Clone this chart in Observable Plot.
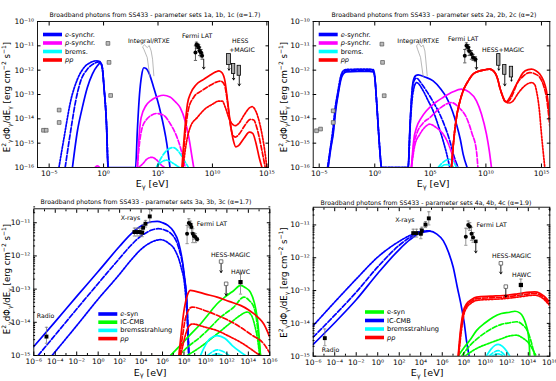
<!DOCTYPE html>
<html><head><meta charset="utf-8">
<script src="https://cdn.jsdelivr.net/npm/d3@7"></script>
<script src="https://cdn.jsdelivr.net/npm/@observablehq/plot@0.6"></script>
<style>
body{margin:0;background:#fff;}
#root{position:relative;width:556px;height:381px;overflow:hidden;font-family:"DejaVu Sans";}
#root svg{position:absolute;}
</style></head><body><div id="root"></div>
<script>
// ---------- data (log10 E [eV], log10 flux [erg cm^-2 s^-1]) ----------
// Panel 1
const p1_esyn_solid = [[-2.86,-16],[-2.4,-14.49],[-1.95,-13.53],[-1.49,-12.71],[-1.03,-12.16],[-0.57,-11.82],[-0.3,-11.7],[-0.12,-11.9],[0.04,-12.71],[0.28,-14.36],[0.4,-16],[2.94,-16],[3.1,-14.5],[3.3,-13.0],[3.5,-12.2],[3.7,-11.9],[3.9,-11.93],[4.2,-12.15],[4.6,-12.71],[5.2,-13.67],[5.8,-15.0],[6.1,-16]];
const p1_esyn_dash = [[-3.53,-16],[-3.02,-14.49],[-2.56,-13.26],[-2.1,-12.44],[-1.49,-11.96],[-0.88,-11.73],[-0.42,-11.66],[-0.25,-11.7],[-0.12,-11.9],[0.04,-12.71],[0.28,-14.36],[0.4,-16]];
const p1_esyn_dot = [[-4.1,-16],[-3.63,-14.77],[-3.02,-13.26],[-2.4,-12.37],[-1.79,-11.89],[-1.18,-11.68],[-0.73,-11.62],[-0.4,-11.63],[-0.12,-11.9],[0.04,-12.71],[0.28,-14.36],[0.4,-16]];
const p1_psyn_solid = [[3.1,-16],[3.25,-14.8],[3.45,-13.95],[3.9,-13.45],[4.3,-13.26],[5.0,-13.08],[5.5,-13.03],[6.1,-13.1],[6.6,-13.3],[7.05,-13.55],[7.5,-14.1],[7.85,-14.8],[8.1,-15.5],[8.28,-16]];
const p1_psyn_dash = [[3.1,-16],[3.3,-15.0],[3.55,-14.36],[4.0,-14.0],[4.4,-13.85],[4.9,-13.78],[5.5,-13.85],[6.15,-14.22],[6.6,-14.6],[7.06,-15.18],[7.5,-16]];
const p1_psyn_dot = [[3.2,-16],[3.6,-15.85],[4.0,-15.65],[4.45,-15.58],[4.9,-15.7],[5.3,-15.9],[5.6,-16]];
const p1_psyn_low = [[-0.8,-16],[-0.57,-15.93],[-0.35,-16]];
const p1_brem_dash = [[4.85,-16],[5.3,-15.6],[5.8,-15.3],[6.4,-15.18],[6.9,-15.35],[7.4,-15.7],[7.8,-16]];
const p1_brem_dot = [[4.85,-16],[5.3,-15.78],[5.8,-15.7],[6.3,-15.8],[6.8,-15.95],[7.0,-16]];
const p1_pp_solid = [[7.2,-16],[7.45,-14.5],[7.7,-13.4],[8.0,-12.95],[8.5,-12.6],[9.2,-12.38],[9.8,-12.2],[10.3,-12.07],[10.6,-12.03],[10.9,-12.12],[11.15,-12.45],[11.4,-13.3],[11.65,-14.2],[11.9,-14.85],[12.15,-15.15],[12.4,-15.1],[12.9,-14.8],[13.4,-14.55],[13.7,-14.6],[14.0,-15.0],[14.3,-15.6],[14.55,-16]];
const p1_pp_dash = [[7.25,-16],[7.5,-14.6],[7.8,-13.6],[8.3,-13.1],[9.0,-12.85],[9.7,-12.65],[10.3,-12.5],[10.75,-12.45],[11.1,-12.6],[11.35,-13.2],[11.6,-14.1],[11.85,-14.65],[12.1,-14.75],[12.5,-14.6],[13.0,-14.25],[13.5,-14.02],[13.8,-14.05],[14.1,-14.4],[14.5,-15.2],[14.85,-16]];
const p1_pp_dot = [[7.3,-16],[7.6,-15.0],[8.0,-14.3],[8.6,-13.95],[9.3,-13.6],[10.0,-13.4],[10.6,-13.27],[10.9,-13.27],[11.2,-13.55],[11.5,-13.95],[11.8,-14.2],[12.1,-14.28],[12.4,-14.2],[12.9,-13.85],[13.4,-13.55],[13.65,-13.5],[14.0,-13.7],[14.4,-14.3],[14.8,-15.3],[15.0,-16]];
const p1_gray = [[-5.52,-14.47],[-5.27,-14.47],[-4.08,-13.64],[-4.08,-14.15],[0.4,-10.9],[0.5,-11.68],[0.65,-13.04]];
const p1_integral = [[4.25,-12.27],[4.01,-11.48],[3.7,-11.14],[3.58,-11.04],[3.76,-10.96],[4.01,-11.07],[4.19,-10.99],[4.37,-11.21],[4.5,-11.55],[4.62,-12.23]];
const p1_fermi = [[8.44,-11.27,-11.0,-11.6],[8.53,-10.96,-10.85,-11.1],[8.65,-11.0,-10.9,-11.12],[8.74,-11.07,-10.95,-11.2],[8.83,-11.21,-11.05,-11.4],[8.95,-11.27,-11.15,-11.45],[9.05,-11.41,-11.3,-11.55]];
const p1_fermi_ul = [[9.2,-11.55,-11.95]];
const p1_hess_ul = [[11.34,11.70,-11.34,-11.79,-12.0],[11.79,12.1,-11.75,-12.16,-12.4],[12.31,12.62,-11.82,-12.23,-12.64]];
const p1_notes = [["Integral/RTXE",4.16,-10.79],["Fermi LAT",8.59,-10.59],["HESS",12.56,-10.82],["+MAGIC",12.71,-11.16]];

// Panel 2
const p2_esyn_solid = [[-4.19,-16],[-3.95,-15.2],[-3.74,-14.63],[-3.5,-13.6],[-3.29,-12.99],[-3.05,-12.4],[-2.84,-12.16],[-2.54,-12.07],[-1.5,-12.05],[-0.5,-12.05],[-0.14,-12.07],[0.0,-12.3],[0.16,-13.26],[0.35,-14.6],[0.46,-15.32],[0.61,-16],[3.0,-16],[3.15,-14.5],[3.3,-13.2],[3.46,-12.44],[3.7,-12.22],[3.9,-12.19],[4.5,-12.28],[5.25,-12.44],[5.9,-12.75],[6.45,-13.12],[7.0,-13.7],[7.35,-14.22],[7.7,-14.85],[7.95,-15.45],[8.31,-16]];
const p2_esyn_dash = [[-4.22,-16],[-3.98,-15.2],[-3.77,-14.6],[-3.52,-13.55],[-3.3,-12.93],[-3.06,-12.33],[-2.84,-12.1],[-2.54,-12.02],[-1.5,-12.0],[-0.5,-12.0],[-0.14,-12.02],[0.0,-12.27],[0.16,-13.26],[0.35,-14.6],[0.46,-15.32],[0.61,-16],[3.0,-16],[3.2,-14.0],[3.4,-12.7],[3.6,-12.38],[3.76,-12.33],[4.2,-12.55],[4.65,-12.85],[5.25,-13.3],[5.85,-13.81],[6.3,-14.3],[6.75,-14.9],[7.1,-15.5],[7.5,-16]];
const p2_esyn_dot = [[-4.25,-16],[-4.0,-15.2],[-3.8,-14.55],[-3.55,-13.5],[-3.32,-12.88],[-3.08,-12.28],[-2.86,-12.04],[-2.54,-11.97],[-1.5,-11.96],[-0.5,-11.96],[-0.14,-11.98],[0.0,-12.25],[0.16,-13.26],[0.35,-14.6],[0.46,-15.32],[0.61,-16],[3.0,-16],[3.2,-14.2],[3.45,-12.9],[3.76,-12.51],[4.36,-12.85],[4.8,-13.25],[5.25,-13.67],[5.7,-14.25],[6.15,-14.9],[6.45,-15.4],[6.75,-16]];
const p2_psyn_solid = [[3.3,-16],[3.5,-14.9],[3.76,-14.36],[4.2,-13.95],[4.65,-13.67],[5.4,-13.35],[6.15,-13.12],[7.0,-12.9],[7.8,-12.78],[8.5,-12.9],[9.15,-13.26],[9.6,-13.8],[10.05,-14.63],[10.3,-15.3],[10.5,-16]];
const p2_psyn_dash = [[3.3,-16],[3.5,-15.1],[3.76,-14.63],[4.3,-14.2],[4.95,-13.95],[5.9,-13.55],[6.9,-13.33],[7.6,-13.55],[8.25,-13.95],[8.75,-14.6],[9.15,-15.32],[9.28,-16]];
const p2_psyn_dot = [[3.3,-16],[3.6,-15.1],[4.06,-14.63],[4.5,-14.35],[4.95,-14.22],[5.5,-14.35],[6.15,-14.63],[6.6,-15.0],[7.05,-15.59],[7.35,-16]];
const p2_brem_dash = [[5.7,-16],[6.1,-15.8],[6.5,-15.68],[6.75,-15.66],[7.0,-15.72],[7.2,-15.85],[7.35,-16]];
const p2_brem_dot = [[5.9,-16],[6.4,-15.88],[6.8,-15.9],[7.1,-16]];
const p2_pp_solid = [[6.9,-16],[7.1,-14.9],[7.35,-13.95],[7.65,-13.3],[7.95,-12.85],[8.4,-12.45],[8.85,-12.16],[9.3,-12.05],[9.75,-12.0],[10.35,-11.96],[10.8,-12.1],[11.05,-12.35],[11.25,-12.71],[11.5,-13.05],[11.7,-13.26],[11.85,-13.29],[12.05,-13.2],[12.45,-12.85],[12.9,-12.45],[13.35,-12.1],[13.8,-11.98],[14.1,-11.96],[14.5,-12.02],[14.85,-12.16],[15.2,-12.45],[15.45,-12.85],[15.75,-13.95]];
const p2_pp_dash = [[6.9,-16],[7.1,-14.9],[7.35,-13.95],[7.65,-13.3],[7.95,-12.85],[8.4,-12.45],[8.85,-12.16],[9.3,-12.05],[9.75,-12.0],[10.35,-11.96],[10.8,-12.1],[11.05,-12.35],[11.25,-12.71],[11.5,-13.05],[11.7,-13.26],[11.85,-13.3],[12.1,-13.25],[12.45,-12.95],[12.75,-12.6],[13.35,-12.25],[13.95,-12.1],[14.4,-12.15],[14.85,-12.3],[15.2,-12.65],[15.45,-13.12],[15.75,-14.3]];
const p2_pp_dot = [[6.9,-16],[7.1,-14.9],[7.35,-13.95],[7.65,-13.3],[7.95,-12.85],[8.4,-12.45],[8.85,-12.16],[9.3,-12.05],[9.75,-12.0],[10.35,-11.96],[10.8,-12.1],[11.05,-12.35],[11.25,-12.71],[11.5,-13.08],[11.7,-13.28],[11.85,-13.32],[12.1,-13.35],[12.45,-13.26],[12.9,-12.95],[13.35,-12.71],[13.8,-12.55],[14.1,-12.51],[14.4,-12.6],[14.55,-12.85],[14.8,-13.6],[15.0,-14.63],[15.3,-16]];
const p2_gray = [[-5.24,-14.49],[-4.88,-14.42],[-3.74,-13.67],[-3.74,-14.15],[0.64,-10.93],[0.7,-11.68],[0.85,-13.05]];
const p2_integral = [[4.36,-12.27],[4.12,-11.48],[3.85,-11.14],[3.76,-11.0],[3.97,-10.9],[4.18,-11.04],[4.36,-10.97],[4.51,-11.21],[4.6,-11.62],[4.72,-12.23]];
const p2_fermi = [[8.1,-11.41,-11.15,-11.7],[8.25,-11.0,-10.88,-11.12],[8.4,-11.07,-10.95,-11.2],[8.49,-11.21,-11.05,-11.4],[8.7,-11.34,-11.2,-11.55],[8.85,-11.48,-11.35,-11.6],[9.06,-11.55,-11.45,-11.65]];
const p2_fermi_ul = [[9.15,-11.6,-11.96]];
const p2_hess_ul = [[11.01,11.31,-11.34,-11.82,-12.0],[11.55,11.85,-11.79,-12.19,-12.64],[12.15,12.45,-11.86,-12.3,-12.45]];
const p2_notes = [["Integral/RTXE",3.91,-10.79],["Fermi LAT",7.95,-10.73],["HESS+MAGIC",11.55,-11.16]];

// Panel 3
const p3_esyn_solid = [[-6,-14.73],[-4,-13.98],[-2,-13.22],[0,-12.47],[2,-11.71],[3,-11.36],[4,-11.1],[5,-10.97],[5.5,-10.96],[6,-11.0],[6.5,-11.08],[7,-11.25],[7.5,-11.6],[8,-12.5],[8.3,-13.6],[8.45,-15]];
const p3_esyn_dash = [[-5.6,-15],[-4,-14.38],[-2,-13.6],[0,-12.83],[2,-12.07],[3,-11.7],[4,-11.4],[5,-11.22],[5.6,-11.18],[6.2,-11.22],[7,-11.4],[7.5,-11.75],[8,-12.55],[8.3,-13.6],[8.45,-15]];
const p3_esyn_dot = [[-4.3,-15],[-2,-14.1],[0,-13.3],[2,-12.55],[3,-12.15],[4,-11.8],[5,-11.58],[5.8,-11.51],[6.5,-11.6],[7.2,-11.85],[7.7,-12.3],[8.1,-13.0],[8.35,-14.2],[8.45,-15]];
const p3_ic_solid = [[6.74,-15],[7.5,-14.75],[8.5,-14.4],[9.54,-14.05],[10.3,-13.75],[11.09,-13.44],[11.9,-13.22],[12.65,-13.04],[13.27,-12.89],[13.7,-12.95],[14.2,-13.1],[14.55,-13.4],[14.82,-13.84],[15.0,-14.4],[15.13,-15]];
const p3_ic_dash = [[7.52,-15],[8.5,-14.7],[9.5,-14.45],[10.16,-14.25],[11.4,-13.85],[12.65,-13.54],[13.58,-13.24],[14.1,-13.35],[14.51,-13.54],[14.8,-14.0],[14.98,-14.55],[15.13,-15]];
const p3_ic_dot = [[8.3,-15],[9.5,-14.75],[11.09,-14.35],[12.4,-14.0],[13.2,-13.8],[13.89,-13.69],[14.3,-13.8],[14.6,-14.1],[14.9,-14.6],[15.05,-15]];
const p3_brem_solid = [[9.54,-15],[9.9,-14.75],[10.4,-14.5],[11.09,-14.4],[11.8,-14.48],[12.5,-14.7],[13.2,-14.88],[13.73,-15]];
const p3_brem_dash = [[10.2,-15],[10.7,-14.88],[11.09,-14.83],[11.6,-14.87],[12.2,-15]];
const p3_brem_dot = [[10.6,-15],[11.1,-14.95],[11.6,-15]];
const p3_pp_solid = [[7.52,-15],[7.75,-14.3],[8.0,-13.65],[8.3,-13.2],[8.6,-13.04],[9.0,-13.06],[10.0,-13.15],[11.09,-13.24],[12.2,-13.37],[13.27,-13.49],[14.0,-13.62],[14.51,-13.74],[15.0,-13.88],[15.44,-14.05],[16,-14.45]];
const p3_pp_dash = [[7.6,-15],[7.85,-14.45],[8.2,-13.8],[8.76,-13.54],[10.0,-13.65],[11.09,-13.79],[12.2,-13.95],[13.27,-14.15],[14.3,-14.38],[15.44,-14.65],[16,-14.93]];
const p3_pp_dot = [[7.7,-15],[8.0,-14.55],[8.4,-14.15],[8.76,-14.05],[10.0,-14.15],[11.09,-14.25],[12.2,-14.42],[13.27,-14.6],[14.3,-14.82],[14.82,-14.94],[15.1,-15]];
const p3_radio = [[-4.82,-14.43,-14.15,-14.63]];
const p3_xray = [[3.38,-11.28,-11.16,-11.4],[3.63,-11.28,-11.16,-11.4],[3.88,-11.28,-11.16,-11.4],[4.1,-11.3,-11.18,-11.42],[4.19,-11.15,-11.05,-11.25],[4.41,-11.03,-10.93,-11.13],[4.81,-10.81,-10.6,-11.0]];
const p3_fermi = [[8.29,-11.33,-11.08,-11.63],[8.45,-11.01,-10.88,-11.13],[8.61,-11.05,-10.95,-11.18],[8.7,-11.13,-11.02,-11.3],[8.82,-11.33,-11.18,-11.6],[8.92,-11.4,-11.3,-11.5],[9.07,-11.43,-11.33,-11.6],[9.23,-11.5,-11.45,-11.55]];
const p3_hess = [[11.46,-12.17,-12.5],[11.93,-12.84,-13.19]];
const p3_hawc = [[13.27,-12.79,-12.55,-13.15]];
const p3_notes = [["X-rays",3.01,-10.87],["HESS-MAGIC",12.33,-11.98],["HAWC",13.27,-12.49],["Radio",-4.91,-13.82]];
const p3_notes_left = [["Fermi LAT",9.2,-11.03]];

// Panel 4
const p4_ic_solid = [[-6,-14.64],[-4,-13.98],[-2,-13.28],[0,-12.48],[2,-11.75],[3,-11.45],[4,-11.24],[4.85,-11.19],[5.5,-11.28],[6.09,-11.48],[6.6,-11.85],[7.02,-12.29],[7.4,-12.9],[7.79,-13.51],[8.05,-14.0],[8.25,-14.52],[8.5,-15]];
const p4_ic_dash = [[-6,-14.42],[-4,-13.75],[-2,-13.05],[0,-12.28],[2,-11.62],[3,-11.38],[4,-11.22],[4.85,-11.19]];
const p4_ic_dot = [[-6,-14.07],[-4,-13.35],[-2,-12.65],[0,-11.98],[2,-11.5],[3,-11.32],[4,-11.2],[4.85,-11.18]];
const p4_esyn_solid = [[7.48,-15],[8.0,-14.75],[8.6,-14.5],[9.18,-14.22],[10.0,-13.98],[10.73,-13.81],[11.5,-13.7],[12.28,-13.66],[12.75,-13.63],[13.2,-13.68],[13.52,-13.81],[13.8,-14.05],[13.99,-14.32],[14.1,-14.7],[14.14,-15]];
const p4_esyn_dash = [[7.8,-15],[8.5,-14.7],[9.5,-14.4],[10.5,-14.18],[11.5,-14.03],[12.28,-13.98],[12.9,-13.95],[13.5,-14.05],[13.95,-14.25],[14.3,-14.6],[14.6,-15]];
const p4_esyn_dot = [[8.1,-15],[9.0,-14.8],[10.4,-14.6],[11.5,-14.47],[12.28,-14.38],[12.9,-14.36],[13.5,-14.45],[14.15,-14.65],[14.5,-14.85],[14.75,-15]];
const p4_brem_solid = [[10.1,-15],[10.5,-14.8],[10.9,-14.67],[11.2,-14.64],[11.6,-14.7],[12.0,-14.85],[12.28,-15]];
const p4_brem_dash = [[10.35,-15],[10.8,-14.88],[11.2,-14.83],[11.5,-14.87],[11.9,-15]];
const p4_brem_dot = [[10.6,-15],[11.2,-14.93],[11.7,-15]];
const p4_pp_solid = [[7.48,-15],[7.7,-14.2],[7.95,-13.65],[8.25,-13.41],[8.7,-13.28],[9.18,-13.2],[10.5,-13.17],[11.66,-13.15],[13.0,-13.1],[14.14,-13.05],[14.6,-13.04],[15.07,-13.08],[15.5,-13.18],[16,-13.36]];
const p4_pp_dash = [[7.5,-15],[7.72,-14.25],[7.97,-13.7],[8.27,-13.46],[8.7,-13.33],[9.18,-13.25],[10.5,-13.22],[11.66,-13.2],[13.0,-13.15],[14.14,-13.1],[14.6,-13.09],[15.07,-13.13],[15.5,-13.23],[16,-13.41]];
const p4_pp_dot = [[7.52,-15],[7.75,-14.3],[8.0,-13.75],[8.3,-13.51],[8.7,-13.38],[9.18,-13.3],[10.5,-13.27],[11.66,-13.25],[13.0,-13.2],[14.14,-13.15],[14.6,-13.14],[15.07,-13.18],[15.5,-13.28],[16,-13.46]];
const p4_radio = [[-4.92,-14.45,-14.17,-14.68]];
const p4_xray = [[3.3,-11.25,-11.13,-11.37],[3.61,-11.25,-11.13,-11.37],[4.01,-11.27,-11.12,-11.42],[4.1,-11.17,-11.07,-11.27],[4.44,-10.99,-10.9,-11.08],[4.75,-10.8,-10.6,-11.0]];
const p4_fermi = [[8.19,-11.36,-11.1,-11.62],[8.41,-11.0,-10.88,-11.12],[8.56,-11.05,-10.93,-11.17],[8.72,-11.27,-11.07,-11.47],[8.87,-11.38,-11.23,-11.53]];
const p4_fermi_ul = [[9.12,-11.5,-11.85]];
const p4_hess = [[11.45,-12.17,-12.49],[11.91,-12.88,-13.2]];
const p4_hawc = [[13.31,-12.83,-12.65,-13.14]];
const p4_notes = [["X-rays",2.52,-10.85],["HESS-MAGIC",12.44,-11.96],["HAWC",13.37,-12.54],["Radio",-4.39,-14.8]];
const p4_notes_left = [["Fermi LAT",9.18,-11.0]];

// ticks (exponents)
const p12_xticks = [-5,0,5,10,15];
const p12_yticks = [-10,-11,-12,-13,-14,-15,-16];
const p34_xticks = [-6,-4,-2,0,2,4,6,8,10,12,14,16];
const p34_yticks = [-11,-12,-13,-14,-15];

// ---------- helpers ----------
const BLUE="#0000ff", MAG="#ff00ff", CYAN="#00ffff", RED="#ff0000", GREEN="#00ff00";
const DASH="5,2", DOT="1.8,1.4";
const P = a => a.map(([x,y]) => ({x: 10**x, y: 10**y}));
const SUP = {"-":"\u207B","0":"\u2070","1":"\u00B9","2":"\u00B2","3":"\u00B3","4":"\u2074","5":"\u2075","6":"\u2076","7":"\u2077","8":"\u2078","9":"\u2079"};
const fmt = d => "10" + String(Math.round(Math.log10(d))).split("").map(c => SUP[c]).join("");
const none = () => "";
const capSym = {draw(ctx, size){ const r = Math.sqrt(size/Math.PI); ctx.moveTo(-r,0); ctx.lineTo(r,0); }};

function curve(arr, stroke, dash){
  return Plot.line(P(arr), {x:"x", y:"y", stroke, strokeWidth:1.7, strokeDasharray: dash, curve:"monotone-x", clip:true});
}
function errbars(arr, color){
  const d = arr.map(([x,y,hi,lo]) => ({x:10**x, y:10**y, hi:10**hi, lo:10**lo}));
  return [
    Plot.ruleX(d, {x:"x", y1:"lo", y2:"hi", stroke:color, strokeWidth:0.8}),
    Plot.dot(d, {x:"x", y:"lo", symbol:capSym, r:1.6, stroke:color, strokeWidth:0.8}),
    Plot.dot(d, {x:"x", y:"hi", symbol:capSym, r:1.6, stroke:color, strokeWidth:0.8})
  ];
}
function pts(arr, opts){
  return Plot.dot(arr.map(([x,y]) => ({x:10**x, y:10**y})), {x:"x", y:"y", ...opts});
}
function ularrows(arr){
  return Plot.arrow(arr.map(([x,y1,y2]) => ({x:10**x, y1:10**y1, y2:10**y2})), {x1:"x", x2:"x", y1:"y1", y2:"y2", stroke:"#000", strokeWidth:0.9, headLength:3.5, headAngle:70});
}
function hessBoxes(arr){
  const d = arr.map(([a,b,t,bt,ae]) => ({x1:10**a, x2:10**b, y1:10**bt, y2:10**t, xm:10**((a+b)/2), ye:10**ae}));
  return [
    Plot.rect(d, {x1:"x1", x2:"x2", y1:"y1", y2:"y2", fill:"#aaa", stroke:"#000", strokeWidth:0.8}),
    Plot.arrow(d, {x1:"xm", x2:"xm", y1:"y1", y2:"ye", stroke:"#000", strokeWidth:0.9, headLength:3.5, headAngle:70})
  ];
}
function notes(arr, anchor){
  return Plot.text(arr.map(([t,x,y]) => ({t, x:10**x, y:10**y})), {x:"x", y:"y", text:"t", fontSize:6.2, textAnchor:anchor, fill:"#000"});
}
function axes(xt, yt, xminor, yminor){
  const X = xt.map(e => 10**e), Y = yt.map(e => 10**e);
  const m = [
    Plot.axisX({ticks:X, tickFormat:fmt, tickSize:-3.5, tickPadding:6.5, label:null, fontSize:7.5}),
    Plot.axisX({anchor:"top", ticks:X, tickFormat:none, tickSize:-3.5, label:null}),
    Plot.axisY({ticks:Y, tickFormat:fmt, tickSize:-3.5, tickPadding:7, label:null, fontSize:7.5}),
    Plot.axisY({anchor:"right", ticks:Y, tickFormat:none, tickSize:-3.5, label:null})
  ];
  if (xminor) m.push(
    Plot.axisX({ticks:xminor, tickFormat:none, tickSize:-2, label:null}),
    Plot.axisX({anchor:"top", ticks:xminor, tickFormat:none, tickSize:-2, label:null}));
  if (yminor) m.push(
    Plot.axisY({ticks:yminor, tickFormat:none, tickSize:-1.8, label:null}),
    Plot.axisY({anchor:"right", ticks:yminor, tickFormat:none, tickSize:-1.8, label:null}));
  return m;
}

const root = document.getElementById("root");
function addText(svg, x, y, parts, size, opts={}){
  const t = d3.select(svg).append("text").attr("x",x).attr("y",y).attr("font-size",size)
    .attr("font-family","DejaVu Sans").attr("text-anchor",opts.anchor||"middle").attr("dominant-baseline","middle").attr("fill","#000");
  if (opts.rotate) t.attr("transform",`rotate(-90,${x},${y})`);
  let pending = 0;
  parts.forEach(p => {
    const [s, kind] = Array.isArray(p) ? p : [p, null];
    const ts = t.append("tspan").text(s);
    let dy = pending; pending = 0;
    if (kind === "sup") { ts.attr("font-size", size*0.7); dy += -size*0.4; pending = size*0.4; }
    if (kind === "sub") { ts.attr("font-size", size*0.7); dy += size*0.3; pending = -size*0.3; }
    if (dy) ts.attr("dy", dy);
  });
  return t;
}
const YLAB = ["E",["2","sup"],["\u03B3","sub"],"d\u03A6",["\u03B3","sub"],"/dE",["\u03B3","sub"]," [erg cm",["\u22122","sup"]," s",["\u22121","sup"],"]"];
const XLAB = ["E",["\u03B3","sub"]," [eV]"];

function legend(svg, items, lx, ly, gap){
  const g = d3.select(svg).append("g").attr("text-anchor","start");
  items.forEach(([c, parts], i) => {
    const y = ly + i*gap;
    g.append("line").attr("x1",lx).attr("x2",lx+19).attr("y1",y).attr("y2",y).attr("stroke",c).attr("stroke-width",3.6);
    const t = g.append("text").attr("x",lx+22).attr("y",y).attr("text-anchor","start").attr("dominant-baseline","middle").attr("font-size",6.6).attr("font-family","DejaVu Sans").attr("fill","#000");
    parts.forEach(([s,it]) => { const ts = t.append("tspan").text(s); if (it) ts.attr("font-style","italic"); });
  });
}

function panel(cfg){
  const svg = Plot.plot({
    width: cfg.w, height: cfg.h,
    marginTop: cfg.m[0], marginRight: cfg.m[1], marginBottom: cfg.m[2], marginLeft: cfg.m[3],
    style: {fontFamily:"DejaVu Sans", fontSize:"7.5px", background:"transparent", overflow:"visible"},
    x: {type:"log", domain: cfg.xd.map(e => 10**e)},
    y: {type:"log", domain: cfg.yd.map(e => 10**e)},
    marks: [...cfg.marks, Plot.frame({stroke:"#000", strokeWidth:0.9}), ...axes(cfg.xt, cfg.yt, cfg.xminor, cfg.yminor)]
  });
  d3.select(svg).selectAll("text").filter(function(){ return this.textContent === ""; }).remove();
  svg.style.left = cfg.left + "px"; svg.style.top = cfg.top + "px";
  root.append(svg);
  addText(svg, cfg.title[0], cfg.title[1], [cfg.title[2]], 6.2);
  addText(svg, cfg.xl[0], cfg.xl[1], XLAB, 9.5);
  addText(svg, cfg.yl[0], cfg.yl[1], YLAB, 8.6, {rotate:true});
  legend(svg, cfg.legend, cfg.lg[0], cfg.lg[1], cfg.lg[2]);
}

const L12 = [[BLUE,[["e",1],["-synchr.",0]]],[MAG,[["p",1],["-synchr.",0]]],[CYAN,[["brems.",0]]],[RED,[["pp",1]]]];

// Panel 1
panel({left:0, top:0, w:278, h:190, m:[21,10,23,37], xd:[-6.07,15.15], yd:[-16,-10], xt:p12_xticks, yt:p12_yticks,
  title:[155,15,"Broadband photons from SS433 - parameter sets 1a, 1b, 1c (\u03B1=1.7)"], xl:[152,184], yl:[7,97],
  legend:L12, lg:[43,34.5,8.5],
  marks:[
    curve(p1_esyn_solid,BLUE), curve(p1_esyn_dash,BLUE,DASH), curve(p1_esyn_dot,BLUE,DOT),
    curve(p1_psyn_solid,MAG), curve(p1_psyn_dash,MAG,DASH), curve(p1_psyn_dot,MAG,DOT), curve(p1_psyn_low,MAG),
    curve(p1_brem_dash,CYAN,DASH), curve(p1_brem_dot,CYAN,DOT),
    curve(p1_pp_solid,RED), curve(p1_pp_dash,RED,DASH), curve(p1_pp_dot,RED,DOT),
    Plot.line(P(p1_integral), {x:"x", y:"y", stroke:"#999", strokeWidth:0.7}),
    pts(p1_gray, {symbol:"square", r:2.1, fill:"#bbb", stroke:"#555", strokeWidth:0.7}),
    ...errbars(p1_fermi, "#333"), ularrows(p1_fermi_ul),
    pts(p1_fermi, {r:2, fill:"#000"}),
    ...hessBoxes(p1_hess_ul),
    notes(p1_notes, "middle")
  ]});

// Panel 2
panel({left:278, top:0, w:278, h:190, m:[21,6.7,23,34.7], xd:[-5.54,15.75], yd:[-16,-10], xt:p12_xticks, yt:p12_yticks,
  title:[156,15,"Broadband photons from SS433 - parameter sets 2a, 2b, 2c (\u03B1=2)"], xl:[155,184], yl:[6,97],
  legend:L12, lg:[40.7,34.5,8.5],
  marks:[
    curve(p2_esyn_solid,BLUE), curve(p2_esyn_dash,BLUE,DASH), curve(p2_esyn_dot,BLUE,DOT),
    curve(p2_psyn_solid,MAG), curve(p2_psyn_dash,MAG,DASH), curve(p2_psyn_dot,MAG,DOT),
    curve(p2_brem_dash,CYAN,DASH), curve(p2_brem_dot,CYAN,DOT),
    curve(p2_pp_solid,RED), curve(p2_pp_dash,RED,DASH), curve(p2_pp_dot,RED,DOT),
    Plot.line(P(p2_integral), {x:"x", y:"y", stroke:"#999", strokeWidth:0.7}),
    pts(p2_gray, {symbol:"square", r:2.1, fill:"#bbb", stroke:"#555", strokeWidth:0.7}),
    ...errbars(p2_fermi, "#333"), ularrows(p2_fermi_ul),
    pts(p2_fermi, {r:2, fill:"#000"}),
    ...hessBoxes(p2_hess_ul),
    notes(p2_notes, "middle")
  ]});

const minorX34 = d3.range(-5,16,2).map(e => 10**e);
const minorY = (lo, hi) => d3.range(lo, hi+1).flatMap(e => d3.range(2,10).map(k => k*10**e)).filter(v => v > 10**lo && v < 10**(hi+0.5));

// Panel 3
panel({left:0, top:190, w:278, h:191, m:[18.3,8.7,26,33.3], xd:[-6,16], yd:[-15,-10.58], xt:p34_xticks, yt:p34_yticks,
  xminor:minorX34, yminor:minorY(-15,-11),
  title:[146,11.7,"Broadband photons from SS433 - parameter sets 3a, 3b, 3c (\u03B1=1.7)"], xl:[150,182.5], yl:[7,89],
  legend:[[BLUE,[["e",1],["-syn",0]]],[GREEN,[["IC-CMB",0]]],[CYAN,[["bremsstrahlung",0]]],[RED,[["pp",1]]]], lg:[98.3,124,8.2],
  marks:[
    curve(p3_esyn_solid,BLUE), curve(p3_esyn_dash,BLUE,DASH), curve(p3_esyn_dot,BLUE,DOT),
    curve(p3_ic_solid,GREEN), curve(p3_ic_dash,GREEN,DASH), curve(p3_ic_dot,GREEN,DOT),
    curve(p3_brem_solid,CYAN), curve(p3_brem_dash,CYAN,DASH), curve(p3_brem_dot,CYAN,DOT),
    curve(p3_pp_solid,RED), curve(p3_pp_dash,RED,DASH), curve(p3_pp_dot,RED,DOT),
    ...errbars(p3_radio,"#777"), pts(p3_radio, {symbol:"square", r:2.2, fill:"#000"}),
    ...errbars(p3_xray,"#777"), pts(p3_xray, {symbol:"square", r:2.2, fill:"#000"}),
    ...errbars(p3_fermi,"#777"), pts(p3_fermi, {r:2, fill:"#000"}),
    ularrows(p3_hess), pts(p3_hess, {symbol:"square", r:2, fill:"#fff", stroke:"#555", strokeWidth:0.8}),
    ...errbars(p3_hawc,"#777"), pts(p3_hawc, {symbol:"square", r:2.4, fill:"#000"}),
    notes(p3_notes,"middle"), notes(p3_notes_left,"start")
  ]});

// Panel 4
panel({left:278, top:190, w:278, h:191, m:[16.7,6.7,25.3,34.7], xd:[-6,16], yd:[-15,-10.46], xt:p34_xticks, yt:p34_yticks,
  xminor:minorX34, yminor:minorY(-15,-11),
  title:[148,13.3,"Broadband photons from SS433 - parameter sets 4a, 4b, 4c (\u03B1=1.9)"], xl:[149,183.3], yl:[6,92.5],
  legend:[[GREEN,[["e-syn",0]]],[BLUE,[["IC-CMB",0]]],[CYAN,[["bremsstrahlung",0]]],[RED,[["pp",1]]]], lg:[87,122,8.5],
  marks:[
    curve(p4_ic_solid,BLUE), curve(p4_ic_dash,BLUE,DASH), curve(p4_ic_dot,BLUE,DOT),
    curve(p4_esyn_solid,GREEN), curve(p4_esyn_dash,GREEN,DASH), curve(p4_esyn_dot,GREEN,DOT),
    curve(p4_brem_solid,CYAN), curve(p4_brem_dash,CYAN,DASH), curve(p4_brem_dot,CYAN,DOT),
    curve(p4_pp_solid,RED), curve(p4_pp_dash,RED,DASH), curve(p4_pp_dot,RED,DOT),
    ...errbars(p4_radio,"#777"), pts(p4_radio, {symbol:"square", r:2.2, fill:"#000"}),
    ...errbars(p4_xray,"#777"), pts(p4_xray, {symbol:"square", r:2.2, fill:"#000"}),
    ...errbars(p4_fermi,"#777"), pts(p4_fermi, {r:2, fill:"#000"}), ularrows(p4_fermi_ul), pts(p4_fermi_ul, {symbol:"square", r:2, fill:"#000"}),
    ularrows(p4_hess), pts(p4_hess, {symbol:"square", r:2, fill:"#fff", stroke:"#555", strokeWidth:0.8}),
    ...errbars(p4_hawc,"#777"), pts(p4_hawc, {symbol:"square", r:2.4, fill:"#000"}),
    notes(p4_notes,"middle"), notes(p4_notes_left,"start")
  ]});
</script></body></html>
